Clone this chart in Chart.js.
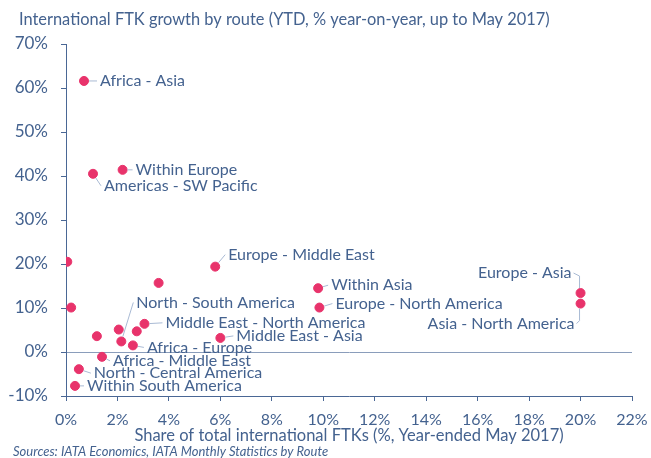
<!DOCTYPE html>
<html>
<head>
<meta charset="utf-8">
<script src="https://cdn.jsdelivr.net/npm/chart.js@4/dist/chart.umd.min.js"></script>
<style>
  html, body { margin: 0; padding: 0; background: #fff; }
</style>
</head>
<body>
<canvas id="ftkChart" width="651" height="458"></canvas>
<script>
// Routes (blank = unlabelled point)
const routes = [
  'Africa - Asia', 'Within Europe', 'Americas - SW Pacific', '', 'Europe - Middle East',
  '', 'Within Asia', 'Europe - North America', '', 'Europe - Asia', 'Asia - North America',
  '', '', '', 'North - South America', 'Middle East - North America', 'Africa - Europe',
  'Middle East - Asia', 'Africa - Middle East', 'North - Central America', 'Within South America'
];
// share of total international FTKs, %
const share = [
  0.7, 2.2, 1.05, 0.05, 5.8,
  3.6, 9.8, 9.85, 0.2, 20.0, 20.0,
  1.2, 2.05, 2.75, 2.15, 3.05, 2.6,
  6.0, 1.4, 0.5, 0.35
];
// FTK growth YTD, % year-on-year
const growth = [
  61.6, 41.4, 40.5, 20.5, 19.4,
  15.7, 14.5, 10.1, 10.1, 13.4, 11.0,
  3.6, 5.1, 4.7, 2.4, 6.4, 1.5,
  3.2, -1.1, -3.9, -7.7
];
const xTicks = [0, 2, 4, 6, 8, 10, 12, 14, 16, 18, 20, 22];
const yTicks = [-10, 0, 10, 20, 30, 40, 50, 60, 70];

const FONT = "Lato, 'Open Sans', sans-serif";
const TEXT = '#44628f';
const AXIS = '#4a6795';

// label placement relative to the point (px): dx, dy, side
const labelPlacement = {
  'Africa - Asia': [16, 0],
  'Within Europe': [13, 0],
  'Americas - SW Pacific': [11, 12],
  'Europe - Middle East': [13, -12],
  'Within Asia': [13, -3],
  'Europe - North America': [16, -4],
  'Europe - Asia': [-9, -20, 'left'],
  'Asia - North America': [-6, 20, 'left'],
  'North - South America': [15, -39],
  'Middle East - North America': [21, -1],
  'Africa - Europe': [14, 2],
  'Middle East - Asia': [16, -2],
  'Africa - Middle East': [11, 4],
  'North - Central America': [15, 4],
  'Within South America': [12, 0]
};

const routeLabels = {
  id: 'routeLabels',
  afterDatasetsDraw(chart) {
    const ctx = chart.ctx;
    const pts = chart.getDatasetMeta(0).data;
    ctx.save();
    ctx.font = '16px ' + FONT;
    ctx.textBaseline = 'middle';
    ctx.lineWidth = 1;
    pts.forEach((p, i) => {
      const name = routes[i];
      if (!name) return;
      const [dx, dy, side] = labelPlacement[name];
      const tx = p.x + dx, ty = p.y + dy;
      ctx.strokeStyle = '#a9bad4';
      ctx.beginPath();
      if (side === 'left') {
        const s = dy < 0 ? 1 : -1;
        ctx.moveTo(tx + 2, ty);
        ctx.lineTo(p.x - 1, ty + 3 * s);
        ctx.lineTo(p.x - 1, p.y - 5 * s);
        ctx.textAlign = 'right';
      } else {
        const ang = Math.atan2(ty - p.y, tx - 3 - p.x);
        ctx.moveTo(p.x + 5 * Math.cos(ang), p.y + 5 * Math.sin(ang));
        ctx.lineTo(tx - 3, ty);
        ctx.textAlign = 'left';
      }
      ctx.stroke();
      ctx.fillStyle = TEXT;
      ctx.fillText(name, tx, ty);
    });
    ctx.restore();
  }
};

const headerFooter = {
  id: 'headerFooter',
  afterDraw(chart) {
    const ctx = chart.ctx;
    ctx.save();
    ctx.fillStyle = TEXT;
    ctx.textAlign = 'left';
    ctx.textBaseline = 'middle';
    ctx.font = '16.4px ' + FONT;
    ctx.fillText('International FTK growth by route (YTD, % year-on-year, up to May 2017)', 19, 20);
    ctx.font = 'italic 13px ' + FONT;
    ctx.fillText('Sources: IATA Economics, IATA Monthly Statistics by Route', 13, 452);
    ctx.restore();
  }
};

const ftkChart = new Chart(document.getElementById('ftkChart'), {
  type: 'scatter',
  data: {
    datasets: [{
      data: share.map((v, i) => ({ x: v, y: growth[i] })),
      backgroundColor: '#e8336b',
      borderColor: '#e8336b',
      pointRadius: 4.5,
      pointHoverRadius: 4.5
    }]
  },
  options: {
    responsive: false,
    animation: false,
    devicePixelRatio: 1,
    layout: { padding: { top: 44, right: 19, bottom: 12, left: 0 } },
    plugins: {
      legend: { display: false },
      tooltip: { enabled: false }
    },
    scales: {
      x: {
        type: 'linear',
        min: 0,
        max: 22,
        afterBuildTicks: s => { s.ticks = xTicks.map(v => ({ value: v })); },
        afterFit: s => { s.height = 50; s.paddingLeft = 0; s.paddingRight = 0; },
        border: { color: AXIS, width: 1 },
        grid: { drawOnChartArea: false, tickColor: AXIS, tickLength: 5 },
        ticks: {
          color: TEXT, padding: 9, maxRotation: 0,
          font: { family: FONT, size: 16 },
          callback: v => v + '%'
        },
        title: {
          display: true,
          text: 'Share of total international FTKs (%, Year-ended May 2017)',
          color: TEXT,
          font: { family: FONT, size: 16.5 },
          padding: 0
        }
      },
      y: {
        type: 'linear',
        min: -10,
        max: 70,
        afterBuildTicks: s => { s.ticks = yTicks.map(v => ({ value: v })); },
        afterFit: s => { s.width = 66; },
        border: { color: AXIS, width: 1 },
        grid: {
          drawOnChartArea: true,
          color: c => (c.tick && c.tick.value === 0 ? '#8a9dbb' : 'rgba(0,0,0,0)'),
          tickColor: AXIS,
          tickLength: 5
        },
        ticks: {
          color: TEXT, padding: 13,
          font: { family: FONT, size: 17 },
          callback: v => v + '%'
        }
      }
    }
  },
  plugins: [routeLabels, headerFooter]
});
</script>
</body>
</html>
